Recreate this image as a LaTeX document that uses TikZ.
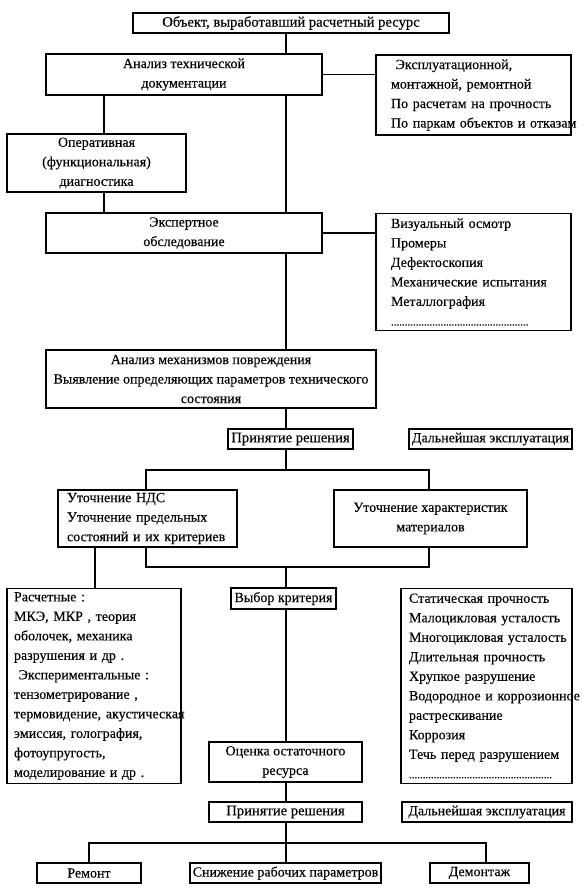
\documentclass[tikz,border=0pt]{standalone}
\usepackage{fontspec}
\setmainfont[FakeBold=0.3]{Liberation Serif}
\begin{document}
\begin{tikzpicture}[x=1pt,y=-1pt,
  box/.style={draw, line width=1.2pt, inner sep=0pt, font=\fontsize{14}{19.5}\selectfont, align=center},
  lbox/.style={box, align=left},
  conn/.style={line width=1.2pt}]
\useasboundingbox (0,0) rectangle (586,889);
% boxes
\node[box, minimum width=316, minimum height=20, font=\fontsize{14.6}{19.5}\selectfont] (b1) at (291,23) {Объект, выработавший расчетный ресурс};
\node[box, minimum width=276, minimum height=41] (b2) at (184,74.5) {Анализ технической\\документации};
\node[lbox, minimum width=195, minimum height=80, text width=165] (b3) at (473.5,95)
  {\mbox{ Эксплуатационной,}\\\mbox{монтажной, ремонтной}\\\mbox{По расчетам на прочность}\\\mbox{По паркам объектов и отказам}};
\node[box, minimum width=179, minimum height=58] (b4) at (96.5,163) {Оперативная\\(функциональная)\\диагностика};
\node[box, minimum width=276, minimum height=40] (b5) at (184,233) {Экспертное\\обследование};
\node[lbox, minimum width=195, minimum height=117, text width=165] (b6) at (473.5,272)
  {\mbox{Визуальный осмотр}\\Промеры\\Дефектоскопия\\\mbox{Механические испытания}\\Металлография\\\mbox{\fontsize{11}{19.5}\selectfont ..................................................}};
\node[box, minimum width=330, minimum height=58] (b7) at (211,379) {Анализ механизмов повреждения\\Выявление определяющих параметров технического\\состояния};
\node[box, minimum width=125, minimum height=20, font=\fontsize{14.6}{19.5}\selectfont] (b8) at (290.5,439) {Принятие решения};
\node[box, minimum width=163, minimum height=20] (b9) at (490.5,439) {Дальнейшая эксплуатация};
\node[lbox, minimum width=179, minimum height=57, text width=161] (b10) at (147.5,518.5)
  {Уточнение НДС\\\mbox{Уточнение предельных}\\\mbox{состояний и их критериев}};
\node[box, minimum width=193, minimum height=57] (b11) at (430.5,518.5) {Уточнение характеристик\\материалов};
\node[lbox, minimum width=174, minimum height=195, text width=160] (b12) at (94,686)
  {Расчетные :\\\mbox{МКЭ, МКР , теория}\\\mbox{оболочек, механика}\\\mbox{разрушения и др .}\\\mbox{ Экспериментальные :}\\\mbox{тензометрирование ,}\\\mbox{термовидение, акустическая}\\\mbox{эмиссия, голография,}\\фотоупругость,\\\mbox{моделирование и др .}};
\node[box, minimum width=105, minimum height=21] (b13) at (283.5,598.5) {Выбор критерия};
\node[lbox, minimum width=171, minimum height=195, text width=155] (b14) at (486.5,686)
  {\mbox{Статическая прочность}\\\mbox{Малоцикловая усталость}\\\mbox{Многоцикловая усталость}\\\mbox{Длительная прочность}\\\mbox{Хрупкое разрушение}\\\mbox{Водородное и коррозионное}\\растрескивание\\Коррозия\\\mbox{Течь перед разрушением}\\\mbox{\fontsize{11}{19.5}\selectfont ....................................................}};
\node[box, minimum width=153, minimum height=40] (b15) at (285.5,762) {Оценка остаточного\\ресурса};
\node[box, minimum width=153, minimum height=20, font=\fontsize{14.6}{19.5}\selectfont] (b16) at (285.5,812) {Принятие решения};
\node[box, minimum width=170, minimum height=20] (b17) at (487,812) {Дальнейшая эксплуатация};
\node[box, minimum width=104, minimum height=20] (b18) at (89,873) {Ремонт};
\node[box, minimum width=191, minimum height=20] (b19) at (285.5,873) {Снижение рабочих параметров};
\node[box, minimum width=99, minimum height=20] (b20) at (479.5,873) {Демонтаж};
% reference coordinates
\coordinate (sx) at (286,0);
\coordinate (xa) at (104,0);
\coordinate (xb) at (95,0);
\coordinate (j1) at (286,470);
\coordinate (j2) at (146,470);
\coordinate (j3) at (429,470);
\coordinate (k1) at (286,567);
\coordinate (k2) at (146,567);
\coordinate (k3) at (429,567);
\coordinate (m1) at (286,843);
\coordinate (m2) at (89,843);
\coordinate (m3) at (486,843);
% connectors
\draw[conn] (b1.south -| sx) -- (b2.north -| sx);
\draw[conn] (b2.east) -- (b2.east -| b3.west);
\draw[conn] (b2.south -| xa) -- (b4.north -| xa);
\draw[conn] (b4.south -| xa) -- (b5.north -| xa);
\draw[conn] (b2.south -| sx) -- (b5.north -| sx);
\draw[conn] (b5.east) -- (b5.east -| b6.west);
\draw[conn] (b5.south -| sx) -- (b7.north -| sx);
\draw[conn] (b7.south -| sx) -- (b8.north -| sx);
\draw[conn] (b8.south -| j1) -- (j1);
\draw[conn] (b10.north -| j2) -- (j2) -- (j3) -- (b11.north -| j3);
\draw[conn] (b10.south -| k2) -- (k2) -- (k3) -- (b11.south -| k3);
\draw[conn] (b10.south -| xb) -- (b12.north -| xb);
\draw[conn] (k1) -- (b13.north -| k1);
\draw[conn] (b13.south -| sx) -- (b15.north -| sx);
\draw[conn] (b15.south -| sx) -- (b16.north -| sx);
\draw[conn] (b16.south -| m1) -- (m1);
\draw[conn] (b18.north -| m2) -- (m2) -- (m3) -- (b20.north -| m3);
\draw[conn] (m1) -- (b19.north -| m1);
\end{tikzpicture}
\end{document}
